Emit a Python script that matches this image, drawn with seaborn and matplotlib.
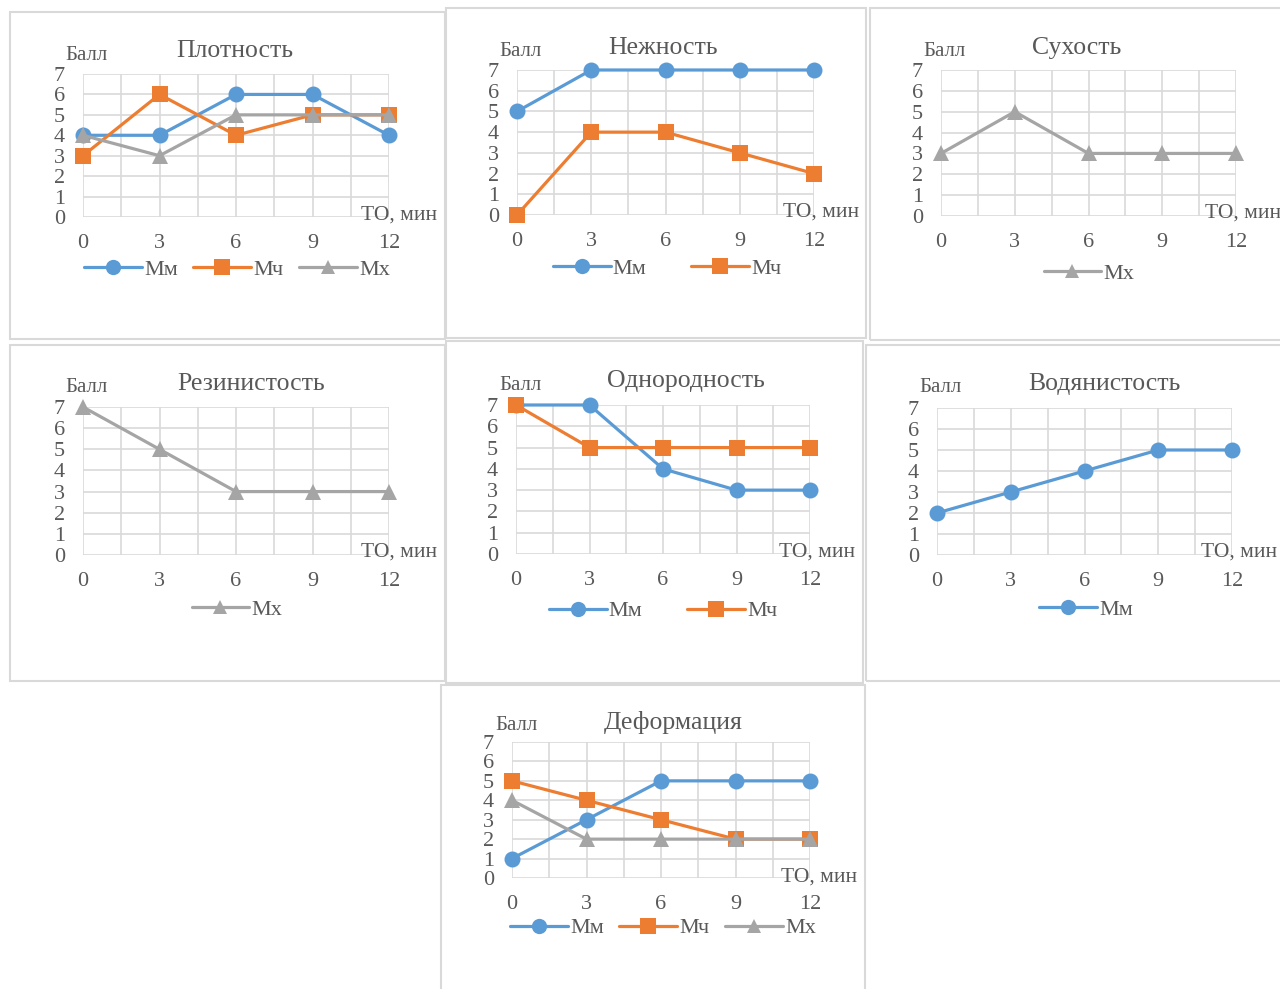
import numpy as np
import pandas as pd
import matplotlib
matplotlib.use("Agg")
import matplotlib.pyplot as plt
import seaborn as sns
from matplotlib.lines import Line2D
from matplotlib.patches import Rectangle

sns.set_theme(style="white")
plt.rcParams['font.family'] = ['Liberation Serif', 'DejaVu Serif']

# ---- data ----
times = [0, 3, 6, 9, 12]
series_names = ["Мм", "Мч", "Мх"]
titles = ["Плотность", "Нежность", "Сухость", "Резинистость",
          "Однородность", "Водянистость", "Деформация"]
plotnost = {"Мм": [4, 4, 6, 6, 4], "Мч": [3, 6, 4, 5, 5], "Мх": [4, 3, 5, 5, 5]}
nezhnost = {"Мм": [5, 7, 7, 7, 7], "Мч": [0, 4, 4, 3, 2]}
sukhost = {"Мх": [3, 5, 3, 3, 3]}
rezinistost = {"Мх": [7, 5, 3, 3, 3]}
odnorodnost = {"Мм": [7, 7, 4, 3, 3], "Мч": [7, 5, 5, 5, 5]}
vodyanistost = {"Мм": [2, 3, 4, 5, 5]}
deformatsiya = {"Мм": [1, 3, 5, 5, 5], "Мч": [5, 4, 3, 2, 2], "Мх": [4, 2, 2, 2, 2]}
panel_data = [plotnost, nezhnost, sukhost, rezinistost, odnorodnost, vodyanistost, deformatsiya]
y_ticks = list(range(0, 8))
y_label = "Балл"
x_label = "ТО, мин"

colors = {"Мм": "#5B9BD5", "Мч": "#ED7D31", "Мх": "#A5A5A5"}
markers = {"Мм": "o", "Мч": "s", "Мх": "^"}
msize = {"Мм": 11, "Мч": 11, "Мх": 10}

W, H = 1280, 989
fig = plt.figure(figsize=(W / 100, H / 100), dpi=100)
fig.patch.set_facecolor("white")

def fx(p):
    return p / W

def fy(p):
    return 1 - p / H

TXT = "#595959"
GRID = "#D9D9D9"

# layout (pixel geometry)
frames = [(10, 12, 445, 339), (446, 8, 866, 338), (870, 8, 1283, 340),
          (10, 345, 445, 681), (446, 341, 863, 683), (866, 345, 1283, 681),
          (441, 685, 865, 996)]
plots = [(83, 389, 74, 217), (517, 814, 70, 215), (941, 1236, 70, 216),
         (83, 389, 407, 555), (516, 810, 405, 554), (937, 1232, 408, 555),
         (512, 810, 742, 878)]
title_pos = [(235, 51), (663, 48), (1077, 48), (251, 384), (686, 381), (1104, 384), (673, 723)]
ball_pos = [(86, 55), (521, 51), (945, 51), (86, 388), (521, 385), (941, 388), (516, 726)]
to_pos = [(399, 215), (821, 212), (1243, 213), (399, 552), (817, 552), (1239, 552), (819, 877)]
legend_pos = [(237, 270), (667, 269), (1089, 274), (237, 610), (663, 611), (1086, 610), (663, 928)]

for i in range(7):
    x0, y0, x1, y1 = frames[i]
    fig.patches.append(Rectangle((fx(x0), fy(y1)), fx(x1) - fx(x0), fy(y0) - fy(y1),
                                 transform=fig.transFigure, fill=False,
                                 edgecolor=GRID, lw=1.5, zorder=0))

    px0, px1, pyt, pyb = plots[i]
    ax = fig.add_axes([fx(px0), fy(pyb), fx(px1) - fx(px0), fy(pyt) - fy(pyb)])
    data = panel_data[i]
    names = [n for n in series_names if n in data]
    rows = []
    for n in names:
        for t, v in zip(times, data[n]):
            rows.append({"t": t, "v": v, "s": n})
    df = pd.DataFrame(rows)
    sns.lineplot(data=df, x="t", y="v", hue="s", style="s", hue_order=names,
                 style_order=names, palette=colors, markers=markers, dashes=False,
                 linewidth=2.3, markersize=11.5, markeredgewidth=0, ax=ax,
                 legend=False, zorder=3)
    for ln in ax.lines:
        ln.set_clip_on(False)
    ax.set_xlim(0, 12)
    ax.set_ylim(0, 7)
    ax.set_xticks(times)
    ax.set_xticks([1.5, 4.5, 7.5, 10.5], minor=True)
    ax.set_yticks(y_ticks)
    ax.grid(True, which="both", color=GRID, lw=1.2)
    ax.set_axisbelow(True)
    for sp in ax.spines.values():
        sp.set_visible(False)
    ax.tick_params(axis="both", which="both", length=0, labelsize=16, labelcolor=TXT)
    ax.tick_params(axis="y", pad=13)
    ax.tick_params(axis="x", pad=12)
    ax.set_xlabel("")
    ax.set_ylabel("")
    ax.set_facecolor("white")

    fig.text(fx(title_pos[i][0]), fy(title_pos[i][1]), titles[i], ha="center",
             va="center", fontsize=18.5, color=TXT)
    fig.text(fx(ball_pos[i][0]), fy(ball_pos[i][1]), y_label, ha="center",
             va="center", fontsize=15, color=TXT)
    fig.text(fx(to_pos[i][0]), fy(to_pos[i][1]), x_label, ha="center",
             va="center", fontsize=15.5, color=TXT)

    handles = [Line2D([0], [0], color=colors[n], lw=2.3, marker=markers[n],
                      markersize=msize[n], markeredgewidth=0) for n in names]
    cs = 0.7 if len(names) == 3 else 2.0
    ax.legend(handles, names, loc="center", ncol=len(names),
              bbox_to_anchor=(fx(legend_pos[i][0]), fy(legend_pos[i][1])),
              bbox_transform=fig.transFigure, frameon=False, fontsize=16,
              handlelength=2.6, handletextpad=0.1, columnspacing=cs,
              labelcolor=TXT)

fig.savefig("out.png", dpi=100, facecolor="white")
